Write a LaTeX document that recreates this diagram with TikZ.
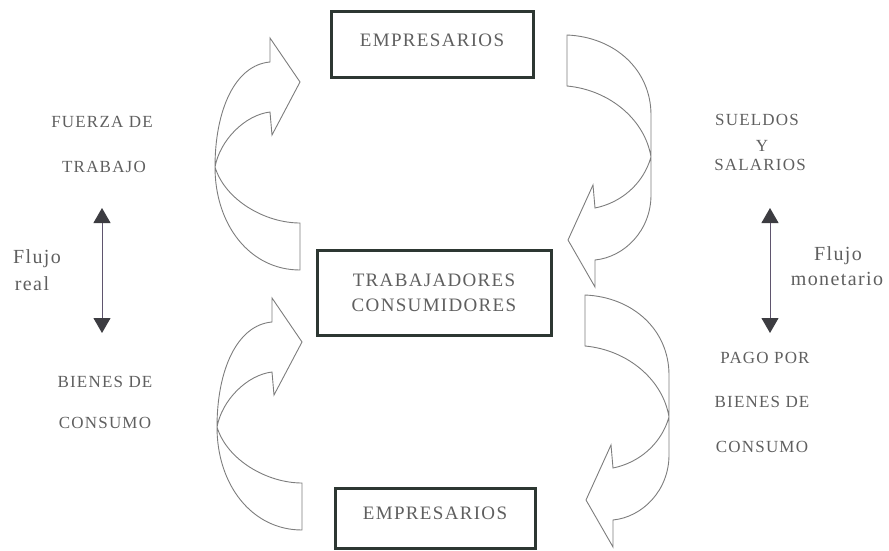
\documentclass[tikz,border=0pt]{standalone}
\usepackage{fontspec}
\setmainfont{Liberation Serif}[LetterSpace=7]
\usetikzlibrary{arrows.meta}
\definecolor{arrowgray}{RGB}{125,125,125}
\definecolor{txtgray}{RGB}{95,95,95}
\definecolor{boxline}{RGB}{45,55,50}
\definecolor{flowline}{RGB}{95,85,110}
\definecolor{headfill}{RGB}{60,60,65}
\tikzset{
  bendshape/.style={draw=arrowgray, line width=0.9pt, line join=miter},
  box/.style={draw=boxline, line width=3pt, text=txtgray, font=\fontsize{19}{25}\selectfont, inner sep=0pt},
  lbl/.style={text=txtgray, font=\fontsize{17}{20}\selectfont, inner sep=0pt},
  flowlbl/.style={text=txtgray, font=\fontsize{20}{24}\selectfont, inner sep=0pt, anchor=base},
  dbl/.style={draw=flowline, line width=1pt,
    {Triangle[width=17pt,length=15pt,color=headfill]}-{Triangle[width=17pt,length=15pt,color=headfill]}},
  leftbend/.pic={
    \draw[bendshape] (300,270) .. controls (250,270) and (215,225) .. (215,167)
      .. controls (215,110) and (235,65) .. (270,62)
      -- (270,38) -- (300,82) -- (272,135) -- (270,112)
      .. controls (245,115) and (220,140) .. (215,167)
      .. controls (225,200) and (265,223) .. (300,223) -- cycle;
  },
  rightbend/.pic={
    \draw[bendshape] (567,35) .. controls (615,37) and (651,70) .. (651,115) -- (651,195)
      .. controls (651,230) and (625,257) .. (595,260)
      -- (595,287) -- (568,240) -- (593,185) -- (595,208)
      .. controls (620,203) and (643,185) .. (651,157)
      .. controls (645,120) and (610,90) .. (567,86) -- cycle;
  }
}
\begin{document}
\begin{tikzpicture}[x=1pt,y=-1pt]
\useasboundingbox (0,0) rectangle (889,551);
% boxes
\node[box, minimum width=202pt, minimum height=66pt, text depth=10pt] (emp1) at (432,45) {EMPRESARIOS};
\node[box, align=center, minimum width=234pt, minimum height=85pt] (trab) at (434,292.5) {TRABAJADORES\\CONSUMIDORES};
\node[box, minimum width=200pt, minimum height=60pt, text depth=10pt] (emp2) at (435,518) {EMPRESARIOS};
% curved arrows
\pic at (0,0) {leftbend};
\pic at (2,260) {leftbend};
\pic at (0,0) {rightbend};
\pic at (18,260) {rightbend};
% left labels
\node[lbl] (fuerza) at (102,122) {FUERZA DE};
\node[lbl] (trabajo) at (104,167) {TRABAJO};
\node[lbl] (bienesa) at (105,382) {BIENES DE};
\node[lbl] (consumoa) at (105,423) {CONSUMO};
\node[flowlbl] (flujoa) at (37,263) {Flujo};
\node[flowlbl] (real) at (32,290) {real};
% right labels
\node[lbl] (sueldos) at (757,120) {SUELDOS};
\node[lbl] (yy) at (762,146) {Y};
\node[lbl] (salarios) at (760,165) {SALARIOS};
\node[lbl] (pago) at (765,358) {PAGO POR};
\node[lbl] (bienesb) at (762,402) {BIENES DE};
\node[lbl] (consumob) at (762,447) {CONSUMO};
\node[flowlbl] (flujob) at (838,260) {Flujo};
\node[flowlbl] (monet) at (837,285) {monetario};
% double arrows
\coordinate (lt) at (102,208);
\coordinate (lb) at (102,333);
\coordinate (rt) at (770,208);
\coordinate (rb) at (770,333);
\draw[dbl] (lt) -- (lb);
\draw[dbl] (rt) -- (rb);
\end{tikzpicture}
\end{document}
